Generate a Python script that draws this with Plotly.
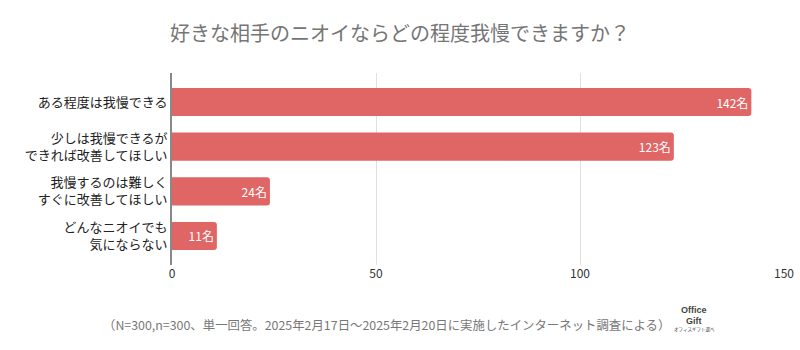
import plotly.graph_objects as go

categories = ["ある程度は我慢できる", "少しは我慢できるが<br>できれば改善してほしい", "我慢するのは難しく<br>すぐに改善してほしい", "どんなニオイでも<br>気にならない"]
values = [142, 123, 24, 11]
value_labels = ["142名", "123名", "24名", "11名"]
x_ticks = [0, 50, 100, 150]

FONT = "Noto Sans CJK JP"
BAR = "#e06666"

fig = go.Figure(go.Bar(
    y=categories, x=values, orientation="h",
    marker=dict(color=BAR, line=dict(width=0)),
    width=0.63,
    text=value_labels, textposition="inside", insidetextanchor="end",
    textfont=dict(color="white", size=12, family=FONT),
    hoverinfo="skip",
))

fig.update_layout(
    width=800, height=350,
    margin=dict(l=172, r=16, t=73, b=85),
    paper_bgcolor="white", plot_bgcolor="white",
    barcornerradius=3,
    showlegend=False,
    font=dict(family=FONT, color="#333333", size=13),
    title=dict(text="好きな相手のニオイならどの程度我慢できますか？", x=0.5, xanchor="center",
               y=1 - 34/350, yanchor="middle",
               font=dict(size=20, color="#757575", family=FONT)),
)
fig.update_xaxes(range=[0, 150], tickvals=x_ticks, showgrid=True, gridcolor="#e0e0e0", gridwidth=1,
                 zeroline=False, showline=False, ticks="", automargin=False,
                 tickfont=dict(size=12, color="#333333"))
fig.update_yaxes(autorange=False, range=[3.65, -0.65], showline=True, linecolor="#888888", linewidth=2,
                 ticks="", ticklabelstandoff=0, automargin=False,
                 tickfont=dict(size=13, color="#222222"), showgrid=False)

fig.add_annotation(text="（N=300,n=300、単一回答。2025年2月17日～2025年2月20日に実施したインターネット調査による）",
                   xref="paper", yref="paper", x=(386-172)/612, y=-(325-265)/192,
                   xanchor="center", yanchor="middle", showarrow=False,
                   font=dict(size=12.4, color="#777777", family=FONT))
fig.add_annotation(text="<b>Office</b>", xref="paper", yref="paper",
                   x=(694-172)/612, y=-(309.5-265)/192, xanchor="center", yanchor="middle",
                   showarrow=False, font=dict(size=9, color="#444444", family="Liberation Sans"))
fig.add_annotation(text="<b>Gift</b>", xref="paper", yref="paper",
                   x=(694-172)/612, y=-(320.5-265)/192, xanchor="center", yanchor="middle",
                   showarrow=False, font=dict(size=9, color="#444444", family="Liberation Sans"))
fig.add_annotation(text="オフィスギフト選べ", xref="paper", yref="paper",
                   x=(694-172)/612, y=-(329.5-265)/192, xanchor="center", yanchor="middle",
                   showarrow=False, font=dict(size=4.5, color="#444444", family=FONT))

fig.write_html("out.html")
